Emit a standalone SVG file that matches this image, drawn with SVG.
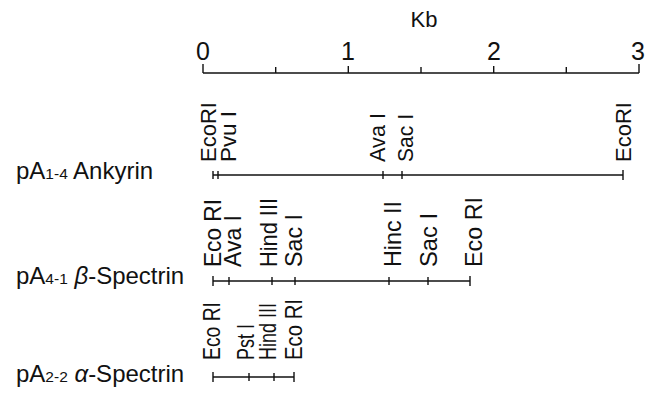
<svg xmlns="http://www.w3.org/2000/svg" width="657" height="396" viewBox="0 0 657 396">
<style>
  text { font-family: "Liberation Sans", Arial, sans-serif; fill: #111; }
  .num { font-size: 25px; text-anchor: middle; }
  .unit { font-size: 22px; text-anchor: middle; }
  .lab { font-size: 22px; }
  .lab2 { font-size: 24px; }
  .big { font-size: 24px; }
  .sub { font-size: 15.5px; }
  .ln { stroke: #111; stroke-width: 1.4; fill: none; }
  .tk { stroke: #111; stroke-width: 1.4; }
</style>
<rect width="657" height="396" fill="#fff"/>

<g id="scale">
  <text class="unit" x="424" y="27">Kb</text>
  <text class="num" x="203" y="60">0</text>
  <text class="num" x="348" y="60">1</text>
  <text class="num" x="494" y="60">2</text>
  <text class="num" x="638" y="60">3</text>
  <path class="ln" d="M203,73 H639"/>
  <path class="tk" d="M203,64 V73 M275.7,67 V73 M348.3,66 V73 M421,67 V73 M493.7,66 V73 M566.3,67 V73 M639,64 V73"/>
</g>

<g id="ankyrin">
  <text class="big" x="16" y="179">pA<tspan class="sub">1-4</tspan> Ankyrin</text>
  <g class="lab">
    <text transform="translate(216,162) rotate(-90)" textLength="60" lengthAdjust="spacingAndGlyphs">EcoRI</text>
    <text transform="translate(236,162) rotate(-90)" textLength="51" lengthAdjust="spacingAndGlyphs">Pvu I</text>
    <text transform="translate(385,162) rotate(-90)" textLength="49" lengthAdjust="spacingAndGlyphs">Ava I</text>
    <text transform="translate(413,162) rotate(-90)" textLength="48" lengthAdjust="spacingAndGlyphs">Sac I</text>
    <text transform="translate(631,162) rotate(-90)" textLength="60" lengthAdjust="spacingAndGlyphs">EcoRI</text>
  </g>
</g>

<g id="beta-spectrin">
  <text class="big" x="16" y="284">pA<tspan class="sub">4-1</tspan> <tspan font-style="italic">β</tspan>-Spectrin</text>
  <g class="lab2">
    <text transform="translate(221,267) rotate(-90)" textLength="68" lengthAdjust="spacingAndGlyphs">Eco RI</text>
    <text transform="translate(241,267) rotate(-90)" textLength="52" lengthAdjust="spacingAndGlyphs">Ava I</text>
    <text transform="translate(277,267) rotate(-90)" textLength="69" lengthAdjust="spacingAndGlyphs">Hind III</text>
    <text transform="translate(302,267) rotate(-90)" textLength="53" lengthAdjust="spacingAndGlyphs">Sac I</text>
    <text transform="translate(401,267) rotate(-90)" textLength="66" lengthAdjust="spacingAndGlyphs">Hinc II</text>
    <text transform="translate(437,267) rotate(-90)" textLength="54" lengthAdjust="spacingAndGlyphs">Sac I</text>
    <text transform="translate(482,267) rotate(-90)" textLength="70" lengthAdjust="spacingAndGlyphs">Eco RI</text>
  </g>
</g>

<g id="alpha-spectrin">
  <text class="big" x="16" y="382">pA<tspan class="sub">2-2</tspan> <tspan font-style="italic">α</tspan>-Spectrin</text>
  <g class="lab2">
    <text transform="translate(220,360) rotate(-90)" textLength="58" lengthAdjust="spacingAndGlyphs">Eco RI</text>
    <text transform="translate(254,360) rotate(-90)" textLength="36" lengthAdjust="spacingAndGlyphs">Pst I</text>
    <text transform="translate(276,360) rotate(-90)" textLength="57" lengthAdjust="spacingAndGlyphs">Hind III</text>
    <text transform="translate(302,360) rotate(-90)" textLength="61" lengthAdjust="spacingAndGlyphs">Eco RI</text>
  </g>
</g>

<g id="connectors">
  <path class="ln" d="M213,175 H623"/>
  <path class="tk" d="M213,171 V179 M218,171 V179 M383,171 V179 M402,171 V179 M623,170 V180"/>
  <path class="ln" d="M213,281 H470"/>
  <path class="tk" d="M213,276 V286 M229,277 V285 M272,277 V285 M295,277 V285 M389,277 V285 M428,277 V285 M470,276 V286"/>
  <path class="ln" d="M213,377 H294"/>
  <path class="tk" d="M213,372 V382 M249,373 V381 M274,373 V381 M294,372 V382"/>
</g>
</svg>
